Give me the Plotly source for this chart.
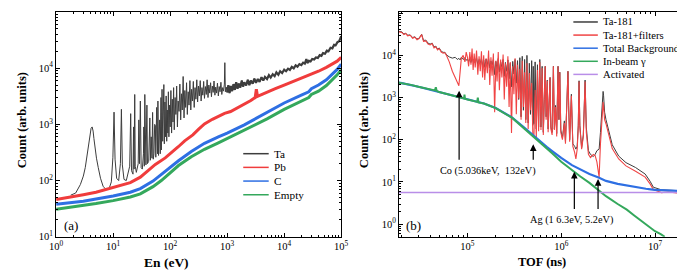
import numpy as np
import plotly.graph_objects as go

W, H = 685, 270
FONT = "Times New Roman, Liberation Serif, Tinos, Nimbus Roman, DejaVu Serif, serif"

# ---------------- Panel (a): counts vs neutron energy (eV) ----------------
a_ta = [(1.8, 55), (2.2, 60), (2.66, 85), (3.0, 120), (3.24, 170), (3.5, 280), (3.69, 430), (3.9, 650),
        (4.1, 850), (4.28, 900), (4.45, 760), (4.6, 560), (4.8, 380), (5.1, 250), (5.48, 170), (6.0, 110),
        (6.7, 78), (7.5, 70), (8.5, 72), (9.3, 95), (9.9, 260), (10.36, 1650), (10.8, 240), (11.5, 110),
        (12.5, 100), (13.4, 200), (13.95, 1850), (14.5, 190), (15.5, 105), (17, 100), (19.5, 180),
        (20.3, 1550), (21.0, 150), (22.3, 130), (22.8, 900), (23.3, 160), (23.9, 3400), (24.4, 180),
        (25.5, 140), (27.5, 200), (28.2, 1200), (29, 200), (30, 2600), (31, 170), (32.5, 160), (34, 300),
        (34.5, 900), (35.2, 180), (35.9, 3400), (36.6, 200), (37.6, 190), (39.1, 2200), (40, 200), (42, 220),
        (44, 1300), (45, 230), (46.5, 600), (48, 250), (49.2, 1630), (50.5, 240), (52, 300), (53.5, 1000),
        (55, 960), (56, 260), (58, 2000), (60, 300), (61, 2600), (62.5, 280), (64, 600), (65.5, 1200),
        (67, 300), (69, 3000), (70, 350), (72, 4200), (74, 500), (76, 1500), (77.5, 5100), (79, 450),
        (81, 2500), (83, 600), (85, 3200), (87, 500), (89, 1800), (91, 700), (93, 3800), (95, 600),
        (98, 2200), (100, 900), (103, 4000), (106, 700), (109, 2800), (112, 1100), (115, 4500), (118, 800),
        (122, 3000), (126, 1500), (130, 4800), (134, 900), (138, 2600), (143, 1700), (148, 5200), (153, 1200),
        (158, 3500), (163, 1800), (169, 7100), (175, 1300), (181, 4000), (187, 2000), (194, 5500), (200, 1500),
        (207, 3800), (214, 2200), (222, 6000), (230, 1800), (238, 4200), (246, 2600), (255, 5800), (264, 2000),
        (273, 4500), (283, 2800), (293, 6200), (303, 2500), (314, 4800), (325, 3200), (337, 6000), (349, 2600),
        (361, 4500), (374, 3300), (387, 5800), (400, 2900), (415, 4700), (430, 3400), (445, 6200), (461, 3000),
        (477, 5000), (494, 3600), (512, 5500), (530, 3100), (549, 4800), (568, 3700), (588, 5900), (609, 3300),
        (630, 4600), (652, 3600), (675, 5400), (700, 3200), (725, 4700), (750, 3800), (777, 5600), (805, 3400),
        (833, 4500), (862, 3900), (893, 5200), (910, 12500), (930, 3800), (963, 4600), (1000, 3700),
        (1050, 5000), (1100, 3600), (1160, 4800), (1220, 3900), (1290, 5200), (1360, 4100), (1440, 5600),
        (1520, 4300), (1600, 5300), (1700, 4500), (1800, 6000), (1900, 4700), (2000, 5600), (2150, 4900),
        (2300, 6200), (2450, 5000), (2600, 6000), (2800, 5300), (3000, 6500), (3200, 5500), (3450, 6400),
        (3700, 5700), (4000, 6900), (4300, 6000), (4600, 7000), (5000, 6400), (5400, 7500), (5800, 6800),
        (6300, 7800), (6800, 7200), (7300, 8400), (7900, 7600), (8500, 8800), (9200, 8200), (10000, 9400),
        (10800, 8800), (11700, 9800), (12600, 9300), (13600, 10500), (14700, 9900), (15900, 11200),
        (17100, 10600), (18500, 11800), (20000, 11300), (21500, 12500), (23000, 12000), (24500, 14500),
        (25500, 12300), (27000, 13500), (29000, 13200), (31000, 14500), (33500, 14200), (36000, 15500),
        (39000, 15200), (42000, 17000), (45000, 16500), (48000, 18500), (52000, 18000), (56000, 20500),
        (60000, 20000), (65000, 23000), (70000, 22500), (75000, 26000), (80000, 25500), (86000, 29000),
        (92000, 30000), (96000, 33000), (100000, 37000)]

a_pb = [(1, 46), (1.5, 49), (2, 52), (3, 56), (5, 62), (7, 68), (10, 74), (15, 83), (20, 92), (30, 115),
        (40, 150), (55, 194), (82, 253), (110, 320), (139, 400), (180, 510), (250, 650), (320, 830),
        (400, 1020), (550, 1230), (700, 1400), (900, 1570), (1150, 1690), (1500, 1950), (2000, 2250),
        (2600, 2650), (3100, 3000), (3250, 4200), (3400, 3150), (4000, 3400), (5000, 3750), (7000, 4300),
        (10000, 5000), (14000, 5700), (20000, 6600), (28000, 7500), (40000, 8800), (55000, 10300),
        (70000, 11800), (85000, 13300), (100000, 15500)]

a_c = [(1, 38), (2, 41), (3, 43), (5, 47), (10, 53), (20, 62), (30, 72), (50, 98), (70, 128), (100, 175),
       (140, 225), (235, 330), (400, 460), (700, 600), (1000, 700), (2000, 980), (5000, 1600), (10000, 2400),
       (20000, 3300), (27000, 3800), (30000, 4300), (40000, 5000), (55000, 6200), (70000, 7800),
       (85000, 9500), (100000, 11800)]

a_empty = [(1, 31), (2, 34), (3, 36), (5, 39), (10, 44), (20, 51), (30, 58), (50, 78), (70, 100), (100, 140),
           (140, 185), (235, 265), (400, 360), (700, 470), (1000, 560), (2000, 780), (5000, 1250),
           (10000, 1850), (20000, 2600), (27000, 3000), (30000, 3400), (40000, 3900), (55000, 4900),
           (70000, 6200), (85000, 7600), (100000, 9300)]

a_names = ["Ta", "Pb", "C", "Empty"]

# ---------------- Panel (b): counts vs TOF (ns) ----------------
b_ta = [(1.86e4, 37000), (2.0e4, 36000), (2.1e4, 32000), (2.2e4, 33500), (2.3e4, 30000), (2.45e4, 30500),
        (2.6e4, 26500), (2.75e4, 27500), (2.9e4, 24500), (3.05e4, 25500), (3.25e4, 31500), (3.4e4, 22500),
        (3.6e4, 23000), (3.8e4, 19500), (4.0e4, 18500), (4.2e4, 19500), (4.4e4, 15800), (4.6e4, 16500),
        (4.8e4, 14000), (5.0e4, 15000), (5.25e4, 12500), (5.5e4, 11800), (5.75e4, 11800), (6.0e4, 10200),
        (6.4e4, 9200), (6.9e4, 8600), (7.4e4, 9000), (7.8e4, 8000), (8.1e4, 8500), (8.35e4, 7800),
        (8.6e4, 9000), (9.0e4, 8000), (9.4e4, 8800), (9.7e4, 7600),
        (100000, 8200), (103000, 7000), (106000, 8500), (109000, 6800), (112000, 9000), (115000, 7200),
        (118000, 8200), (121000, 6600), (125000, 8800), (129000, 6000), (133000, 8000), (137000, 6500),
        (141000, 8500), (145000, 5600), (149000, 7800), (153000, 5200), (158000, 8200), (163000, 6000),
        (168000, 8600), (173000, 5000), (178000, 7400), (183000, 5800), (189000, 8000), (195000, 3500),
        (201000, 7200), (207000, 4600), (213000, 8400), (219000, 4000), (226000, 7000), (233000, 5200),
        (240000, 8000), (247000, 3200), (254000, 6800), (262000, 4200), (270000, 7800), (278000, 2800),
        (286000, 6500), (295000, 1800), (304000, 7200), (313000, 3600), (322000, 8000), (332000, 2200),
        (342000, 7500), (352000, 900), (362000, 8800), (373000, 350), (384000, 9500), (395000, 500),
        (407000, 8000), (419000, 300), (431000, 10000), (444000, 250), (457000, 6500), (470000, 400),
        (484000, 7500), (498000, 220), (503000, 5500), (512000, 240), (527000, 7000), (542000, 180),
        (558000, 6000), (574000, 200), (591000, 8000), (608000, 200), (626000, 5500), (644000, 150),
        (660000, 900), (675000, 5500), (690000, 350), (710000, 2600), (725000, 180), (745000, 1300),
        (760000, 3000), (775000, 200), (800000, 150), (825000, 5500), (845000, 180), (870000, 650),
        (895000, 140), (925000, 5500), (945000, 300), (965000, 4000), (990000, 170), (1030000, 110),
        (1080000, 280), (1110000, 90), (1160000, 3000), (1180000, 4200), (1200000, 650), (1230000, 100),
        (1283000, 1200), (1330000, 80), (1390000, 70), (1433000, 60), (1480000, 70), (1520000, 220),
        (1549000, 2500), (1580000, 220), (1650000, 65), (1720000, 130), (1797000, 2600), (1850000, 200),
        (1950000, 55), (2050000, 45), (2200000, 40), (2300000, 45), (2400000, 55), (2536000, 60),
        (2620000, 150), (2700000, 450), (2760000, 1100), (2796000, 1400), (2830000, 1100), (2900000, 450),
        (3000000, 300), (3250000, 155), (3500000, 76), (4100000, 41), (4900000, 28.7), (6200000, 22),
        (7850000, 15.4), (8860000, 10.4), (9600000, 7.5), (1.17e7, 6.5), (1.4e7, 6.3), (1.7e7, 6.2),
        (2.1e7, 6.1)]

b_ta_filters = [(1.86e4, 36000), (2.0e4, 35000), (2.1e4, 31000), (2.2e4, 33000), (2.3e4, 29000),
                (2.45e4, 30000), (2.6e4, 25500), (2.75e4, 27000), (2.9e4, 23500), (3.05e4, 25000),
                (3.25e4, 31000), (3.4e4, 21500), (3.6e4, 22000), (3.8e4, 18500), (4.0e4, 17700),
                (4.2e4, 19000), (4.4e4, 15000), (4.6e4, 16000), (4.8e4, 13500), (5.0e4, 14500),
                (5.25e4, 12000), (5.5e4, 11300), (5.75e4, 11500), (6.0e4, 9800), (6.4e4, 7000),
                (6.9e4, 4200), (7.4e4, 3000), (7.8e4, 2270), (8.1e4, 1900), (8.35e4, 4000), (8.6e4, 8500),
                (9.0e4, 10000), (9.4e4, 7000), (9.7e4, 12000),
                (100000, 9000), (103000, 5500), (106000, 12000), (109000, 6000), (112000, 14500),
                (115000, 4500), (118000, 11000), (121000, 5200), (125000, 13000), (129000, 3500),
                (133000, 9500), (137000, 4200), (141000, 12500), (145000, 3000), (149000, 10000),
                (153000, 2600), (158000, 8500), (163000, 3800), (168000, 13000), (173000, 2000),
                (178000, 9000), (183000, 3300), (189000, 11000), (195000, 450), (201000, 7500),
                (207000, 2400), (213000, 12000), (219000, 1500), (226000, 8000), (233000, 3000),
                (240000, 10500), (247000, 900), (254000, 6500), (262000, 1800), (270000, 9500),
                (278000, 600), (286000, 7000), (295000, 145), (304000, 5500), (313000, 1200), (322000, 8500),
                (332000, 400), (342000, 6000), (352000, 950), (362000, 4800), (373000, 300), (384000, 7500),
                (395000, 600), (407000, 4000), (419000, 250), (431000, 6500), (444000, 180), (457000, 3800),
                (470000, 500), (484000, 2200), (498000, 130), (503000, 120), (512000, 125), (527000, 1500),
                (542000, 110), (558000, 4500), (574000, 160), (591000, 7000), (608000, 170), (626000, 5000),
                (644000, 130),
                (660000, 800), (675000, 5500), (690000, 300), (710000, 2500), (725000, 150), (745000, 1200),
                (760000, 3000), (775000, 180), (800000, 130), (825000, 5500), (845000, 170), (870000, 600),
                (895000, 120), (925000, 5500), (945000, 300), (965000, 4000), (990000, 150), (1030000, 100),
                (1080000, 250), (1110000, 80), (1160000, 3000), (1180000, 4200), (1200000, 600),
                (1230000, 90), (1283000, 1100), (1330000, 70), (1390000, 50), (1433000, 35), (1480000, 60),
                (1520000, 200), (1549000, 2400), (1580000, 200), (1650000, 60), (1720000, 120),
                (1797000, 2400), (1850000, 150), (1950000, 45), (2050000, 38), (2200000, 45), (2300000, 42),
                (2400000, 30), (2536000, 13), (2620000, 80), (2700000, 250), (2760000, 600), (2796000, 780),
                (2830000, 600), (2900000, 300), (3000000, 240), (3250000, 125), (3500000, 62),
                (4100000, 35), (4900000, 24), (6200000, 18), (7850000, 13), (8860000, 9.0), (9600000, 6.6),
                (1.17e7, 5.6), (1.4e7, 5.8), (1.7e7, 5.5), (2.1e7, 5.4)]

b_total_bg = [(1.86e4, 2250), (2e4, 2200), (3e4, 1800), (5e4, 1350), (7e4, 1100), (1e5, 905), (1.5e5, 725),
              (2e5, 565), (3e5, 336), (4e5, 196), (5e5, 126), (6e5, 91), (7e5, 68), (8e5, 54), (1e6, 37),
              (1.3e6, 25), (1.6e6, 19.5), (2e6, 15.5), (2.5e6, 12.8), (3e6, 10.6), (4e6, 9.0), (5e6, 8.2),
              (6e6, 7.5), (7e6, 7.1), (8e6, 6.9), (9e6, 6.7), (1e7, 6.5), (1.3e7, 6.3), (1.6e7, 6.1),
              (2.1e7, 6.0)]

b_inbeam = [(1.86e4, 2250), (2e4, 2200), (2.5e4, 2000), (3e4, 1800), (4e4, 1550), (4.5e4, 1480),
            (4.6e4, 1750), (4.7e4, 1440), (5e4, 1350), (7e4, 1100), (9.2e4, 950), (9.3e4, 1180),
            (9.4e4, 935), (1e5, 900), (1.27e5, 790), (1.29e5, 1000), (1.31e5, 770), (1.5e5, 720), (2e5, 560),
            (3e5, 330), (4e5, 190), (5e5, 120), (6e5, 85), (7e5, 62), (8e5, 48), (1e6, 30), (1.3e6, 19),
            (1.6e6, 13.5), (2e6, 9.5), (2.5e6, 6.5), (3e6, 4.6), (4e6, 3.0), (5e6, 2.2), (6e6, 1.6),
            (7e6, 1.25), (8e6, 1.0), (9e6, 0.8), (1e7, 0.68), (1.15e7, 0.58), (1.27e7, 0.5)]

b_activated = [(1.86e4, 5.6), (2.1e7, 5.6)]

b_names = ["Ta-181", "Ta-181+filters", "Total Background", "In-beam \u03b3", "Activated"]

# arrows: (TOF, tip count, tail count)
co_arrows = [(8.15e4, 1450, 31), (5.03e5, 78, 31)]
ag_arrows = [(1.38e6, 17.4, 2.1), (2.47e6, 11.7, 2.1)]
co_text = "Co (5.036keV,  132eV)"
ag_text = "Ag (1 6.3eV, 5.2eV)"

# tick labels
a_x_tickvals = [1, 10, 100, 1e3, 1e4, 1e5]
a_x_ticktext = ["10<sup>0</sup>", "10<sup>1</sup>", "10<sup>2</sup>", "10<sup>3</sup>", "10<sup>4</sup>", "10<sup>5</sup>"]
a_y_tickvals = [10, 100, 1e3, 1e4, 1e5]
a_y_ticktext = ["10<sup>1</sup>", "10<sup>2</sup>", "10<sup>3</sup>", "10<sup>4</sup>", "10<sup>5</sup>"]
b_x_tickvals = [1e5, 1e6, 1e7]
b_x_ticktext = ["10<sup>5</sup>", "10<sup>6</sup>", "10<sup>7</sup>"]
b_y_tickvals = [1, 10, 100, 1e3, 1e4, 1e5]
b_y_ticktext = ["10<sup>0</sup>", "10<sup>1</sup>", "10<sup>2</sup>", "10<sup>3</sup>", "10<sup>4</sup>", "10<sup>5</sup>"]

# ---------------- styles ----------------
a_colors = ["#3d3d3d", "#f03c3c", "#2e6fe3", "#34a85c"]
a_widths = [1.0, 3.0, 3.0, 3.0]
b_colors = ["#3d3d3d", "#f04444", "#2e6fe3", "#34a85c", "#b98ee8"]
b_widths = [1.0, 1.1, 2.2, 2.0, 1.6]


def px_x(px):
    return px / W


def px_y(py):
    return 1 - py / H


fig = go.Figure()

for k, (pts, name, col, wd) in enumerate(zip([a_ta, a_pb, a_c, a_empty], a_names, a_colors, a_widths)):
    fig.add_trace(go.Scatter(x=[p[0] for p in pts], y=[p[1] for p in pts], mode="lines", name=name,
                             line=dict(color=col, width=wd), showlegend=False, xaxis="x", yaxis="y"))
    if k == 0:
        # the noisy high-energy part of the Ta spectrum appears as a thicker band
        hi = [p for p in pts if p[0] >= 1000]
        fig.add_trace(go.Scatter(x=[p[0] for p in hi], y=[p[1] for p in hi], mode="lines", name=name,
                                 line=dict(color=col, width=2.2), showlegend=False, xaxis="x", yaxis="y"))

for pts, name, col, wd in zip([b_ta, b_ta_filters, b_total_bg, b_inbeam, b_activated], b_names, b_colors, b_widths):
    fig.add_trace(go.Scatter(x=[p[0] for p in pts], y=[p[1] for p in pts], mode="lines", name=name,
                             line=dict(color=col, width=wd), showlegend=False, xaxis="x2", yaxis="y2"))

axis_common = dict(type="log", showline=True, linecolor="black", linewidth=1, mirror="ticks",
                   ticks="inside", ticklen=4, tickwidth=1, tickcolor="black", showgrid=False, zeroline=False,
                   tickfont=dict(family=FONT, size=10.5, color="black"), tickmode="array",
                   minor=dict(ticks="inside", ticklen=2, tickwidth=1, tickcolor="black", dtick="D1", showgrid=False))

ydom = [px_y(234), px_y(4)]
fig.update_layout(
    width=W, height=H, margin=dict(l=0, r=0, t=0, b=0),
    paper_bgcolor="white", plot_bgcolor="white", showlegend=False,
    font=dict(family=FONT),
    xaxis=dict(axis_common, domain=[px_x(42), px_x(333)], range=[0, 5], anchor="y",
               tickvals=a_x_tickvals, ticktext=a_x_ticktext),
    yaxis=dict(axis_common, domain=ydom, range=[1, 5], anchor="x",
               tickvals=a_y_tickvals, ticktext=a_y_ticktext),
    xaxis2=dict(axis_common, domain=[px_x(392), px_x(684)], range=[4.27, 7.32], anchor="y2",
                tickvals=b_x_tickvals, ticktext=b_x_ticktext),
    yaxis2=dict(axis_common, domain=ydom, range=[-0.3, 5.03], anchor="x2",
                tickvals=b_y_tickvals, ticktext=b_y_ticktext),
)

ann = []
shapes = []


def label(text, xpx, ypx, size, bold=False, angle=0, anchor="center"):
    return dict(text=("<b>%s</b>" % text) if bold else text, x=px_x(xpx), y=px_y(ypx),
                xref="paper", yref="paper", showarrow=False, textangle=angle,
                font=dict(family=FONT, size=size, color="black"), xanchor=anchor, yanchor="middle")


# axis titles
ann.append(label("En (eV)", 155, 260, 13.5, bold=True))
ann.append(label("TOF (ns)", 538, 260, 12.5, bold=True))
ann.append(label("Count (arb. units)", 8, 115, 12.5, bold=True, angle=-90))
ann.append(label("Count (arb. units)", 357, 115, 12.5, bold=True, angle=-90))
# panel labels
ann.append(label("(a)", 57, 222, 13))
ann.append(label("(b)", 407, 222, 13))

# arrows (log axes -> annotation coordinates in log10 units)
for tof, tip, tail in co_arrows + ag_arrows:
    ann.append(dict(text="", x=np.log10(tof), y=np.log10(tip), ax=np.log10(tof), ay=np.log10(tail),
                    xref="x2", yref="y2", axref="x2", ayref="y2", showarrow=True, arrowhead=2,
                    arrowsize=1.1, arrowwidth=1.2, arrowcolor="black", standoff=0, startstandoff=0))
ann.append(label(co_text, 483, 167, 10.3))
ann.append(label(ag_text, 568, 217, 10.3))

# manual legends
for i, (name, col) in enumerate(zip(a_names, a_colors)):
    yy = 149 + 14 * i
    shapes.append(dict(type="line", xref="paper", yref="paper", x0=px_x(233), x1=px_x(259),
                       y0=px_y(yy), y1=px_y(yy), line=dict(color=col, width=1.5)))
    ann.append(label(name, 262, yy, 11.2, anchor="left"))
for i, (name, col) in enumerate(zip(b_names, b_colors)):
    yy = 14.3 + 13.4 * i
    shapes.append(dict(type="line", xref="paper", yref="paper", x0=px_x(570), x1=px_x(595),
                       y0=px_y(yy), y1=px_y(yy), line=dict(color=col, width=1.5)))
    ann.append(label(name, 598, yy, 10.6, anchor="left"))

fig.update_layout(annotations=ann, shapes=shapes)
fig.write_html("out.html")
